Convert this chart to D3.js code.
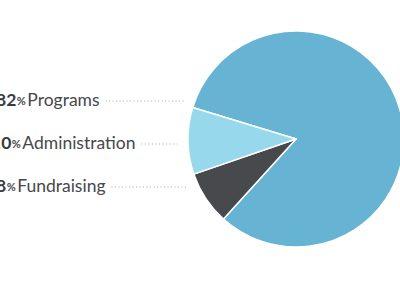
<!DOCTYPE html>
<head>
  <meta charset="utf-8">
  <script src="https://d3js.org/d3.v7.min.js"></script>
  <style>
    body { margin:0; background:#fff; overflow:hidden; }
  </style>
</head>
<body>
<script>
  // data
  var categories = ["Programs", "Fundraising", "Administration"];
  var values = [82, 8, 10];
  // label rows, top to bottom
  var labelOrder = ["Programs", "Administration", "Fundraising"];

  var width = 400, height = 284;
  var cx = 296, cy = 139, radius = 108;
  var colors = {Programs: "#67b3d4", Fundraising: "#48494d", Administration: "#97d8ed"};

  var svg = d3.select("body").append("svg")
    .attr("width", width)
    .attr("height", height);

  var data = categories.map(function(c, i){ return {name: c, value: values[i]}; });

  var pie = d3.pie()
    .sort(null)
    .value(function(d){ return d.value; })
    .startAngle(-73 * Math.PI / 180)
    .endAngle(287 * Math.PI / 180);

  var arc = d3.arc().innerRadius(0).outerRadius(radius);

  var g = svg.append("g").attr("transform", "translate(" + cx + "," + cy + ")");
  g.selectAll("path")
    .data(pie(data))
    .enter().append("path")
    .attr("d", arc)
    .attr("fill", function(d){ return colors[d.data.name]; })
    .attr("stroke", "#fff")
    .attr("stroke-width", 1.5)
    .attr("stroke-linejoin", "round");

  // labels (left edge is cut off in the original)
  var yScale = d3.scalePoint().domain(labelOrder).range([106, 192]);
  var startX = {Programs: -4, Administration: -9, Fundraising: -4};

  labelOrder.forEach(function(name){
    var v = values[categories.indexOf(name)];
    var y = yScale(name);
    var t = svg.append("text")
      .attr("x", startX[name])
      .attr("y", y)
      .attr("font-family", "Lato, sans-serif")
      .attr("font-size", "17.5px")
      .attr("fill", "#46474b");
    t.append("tspan").text(v).attr("font-weight", "bold").attr("fill", "#3a3b3f");
    t.append("tspan").text("%").attr("font-size", "11px").attr("font-weight", "bold").attr("dy", -1.5).attr("dx", 0.5);
    t.append("tspan").text(name).attr("dy", 1.5).attr("dx", 1.5);

    var bb = t.node().getBBox();
    var textEnd = bb.x + bb.width;
    var ly = y - 5;
    var edge = cx - Math.sqrt(radius * radius - (ly - cy) * (ly - cy));
    svg.append("line")
      .attr("x1", textEnd + 6)
      .attr("x2", edge - 11)
      .attr("y1", ly)
      .attr("y2", ly)
      .attr("stroke", "#a8a8a8")
      .attr("stroke-width", 1)
      .attr("stroke-dasharray", "1,2.5");
  });
</script>
</body>
